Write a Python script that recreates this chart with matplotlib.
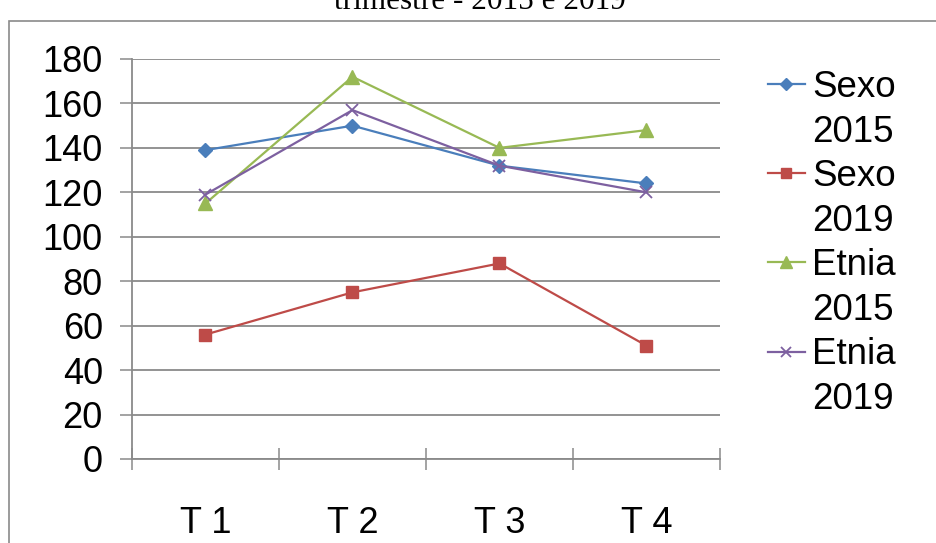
import matplotlib.pyplot as plt
from matplotlib.lines import Line2D
from matplotlib.patches import Rectangle

# dados
trimestres = ['T 1', 'T 2', 'T 3', 'T 4']
sexo_2015 = [139, 150, 132, 124]
sexo_2019 = [56, 75, 88, 51]
etnia_2015 = [115, 172, 140, 148]
etnia_2019 = [119, 157, 132, 120]
nomes = [('Sexo', '2015'), ('Sexo', '2019'), ('Etnia', '2015'), ('Etnia', '2019')]

plt.rcParams['font.family'] = ['Liberation Sans', 'DejaVu Sans']
cinza = '#8a8a8a'

fig = plt.figure(figsize=(9.37, 5.43), dpi=100)
ax = fig.add_axes([132/937, 1-459/543, 588/937, 400/543])

# posicao de cada trimestre no meio da sua categoria
x = [i + 0.5 for i in range(len(trimestres))]

l1, = ax.plot(x, sexo_2015, color='#4A7EBB', lw=1.6, marker='D', ms=7.5)
l2, = ax.plot(x, sexo_2019, color='#BE4B48', lw=1.6, marker='s', ms=8.5)
l3, = ax.plot(x, etnia_2015, color='#98B954', lw=1.6, marker='^', ms=10)
l4, = ax.plot(x, etnia_2019, color='#7D60A0', lw=1.6, marker='x', ms=9, mew=1.3)

ax.set_xlim(0, 4)
ax.set_ylim(0, 180)
ax.set_yticks(range(0, 181, 20))
ax.yaxis.grid(True, color=cinza, lw=1.3)
ax.set_axisbelow(True)

# ticks principais nas divisas, rotulos nos ticks menores
ax.set_xticks(range(0, 5))
ax.set_xticklabels([])
ax.set_xticks(x, minor=True)
ax.set_xticklabels(trimestres, minor=True)
ax.tick_params(axis='x', which='major', direction='inout', length=16, width=1.1, color=cinza)
ax.tick_params(axis='x', which='minor', length=0, pad=34, labelsize=26)
ax.tick_params(axis='y', direction='out', length=9, width=1.1, color=cinza, pad=12, labelsize=26)

for lado in ['top', 'right']:
    ax.spines[lado].set_visible(False)
for lado in ['left', 'bottom']:
    ax.spines[lado].set_color(cinza)
    ax.spines[lado].set_linewidth(1.3)

# legenda com o ano na segunda linha
vazio = Line2D([], [], linestyle='none')
handles = []
labels = []
for h, (a, b) in zip([l1, l2, l3, l4], nomes):
    handles += [h, vazio]
    labels += [a, b]
fig.legend(handles, labels, loc='upper left', bbox_to_anchor=(768/937, 1-70/543),
           frameon=False, fontsize=26.5, borderpad=0, borderaxespad=0,
           handlelength=1.0, handletextpad=0.2, labelspacing=0.26, markerscale=0.8)

# moldura e titulo cortado no topo
fig.add_artist(Rectangle((9/937, -0.1), 1.2, 1.1-21/543, transform=fig.transFigure,
                         fill=False, edgecolor=cinza, lw=1.2))
fig.text(480/937, 1-9/543, 'trimestre - 2015 e 2019', ha='center', va='baseline',
         fontsize=22.5, family='Liberation Serif')

plt.savefig('out.png', dpi=100)
